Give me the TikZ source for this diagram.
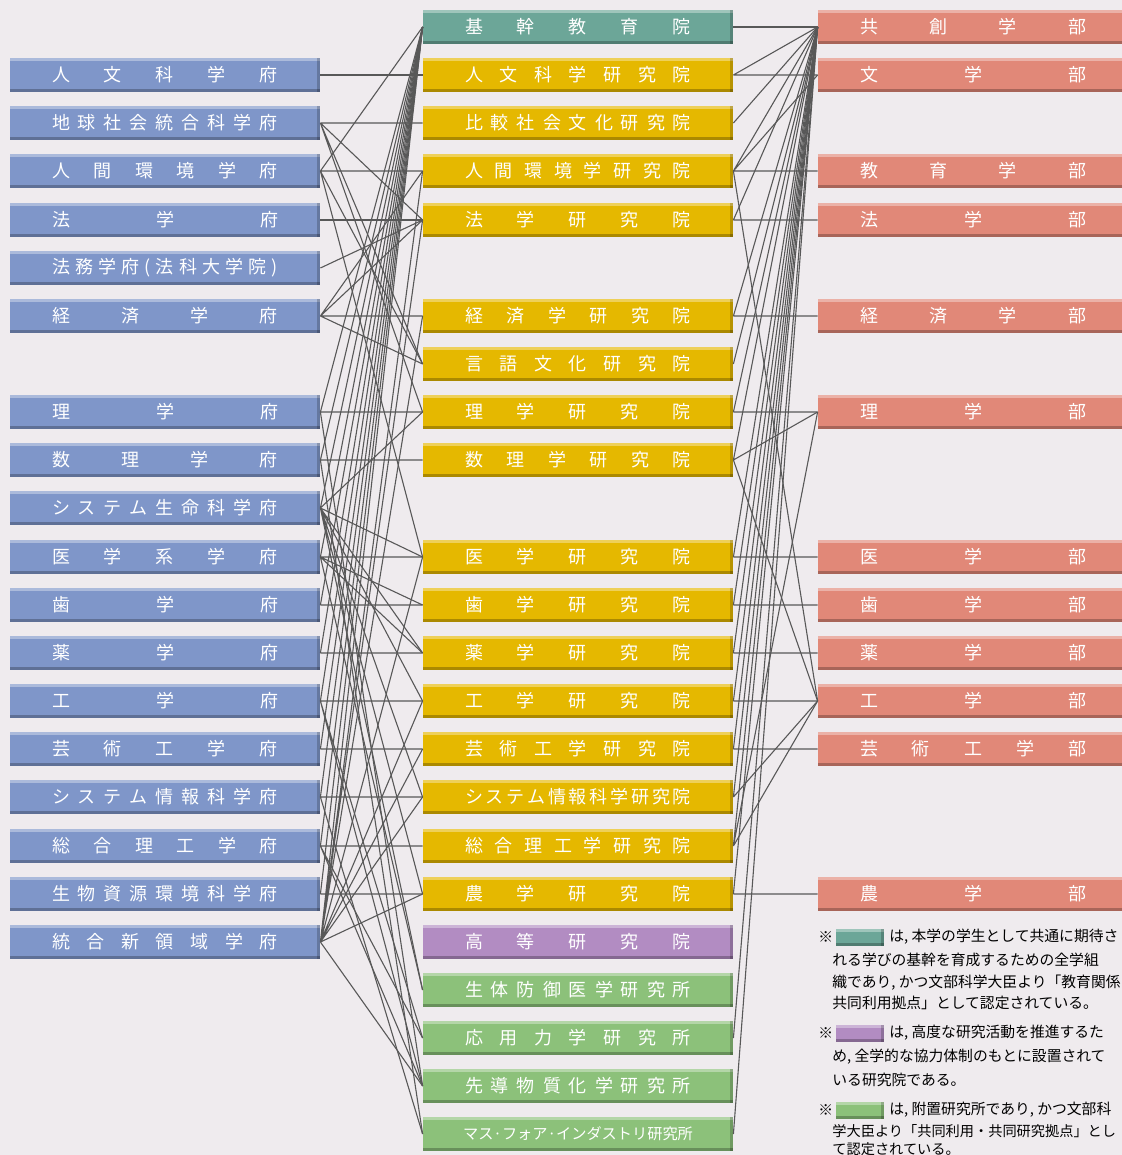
\documentclass[tikz,border=0pt]{standalone}
\usepackage{fontspec}
\setmainfont{Noto Sans CJK JP}
\usepackage{tikz}

\definecolor{paper}{RGB}{239,235,238}
\definecolor{fublue}{RGB}{127,150,201}
\definecolor{ingold}{RGB}{229,184,0}
\definecolor{busalmon}{RGB}{225,136,120}
\definecolor{kikanteal}{RGB}{108,166,152}
\definecolor{kotopurple}{RGB}{178,140,194}
\definecolor{fuzokugreen}{RGB}{140,193,122}
\definecolor{linkgray}{RGB}{88,88,88}

% spread the letters of a unit name over the box
\newcommand{\spr}[1]{\makebox[113pt][s]{#1}}

\tikzset{
  bevel/.style={path picture={
      \fill[white,opacity=0.35] (path picture bounding box.north west) rectangle ([yshift=-1.5pt]path picture bounding box.north east);
      \fill[black,opacity=0.25] (path picture bounding box.south west) rectangle ([yshift=1.5pt]path picture bounding box.south east);
      \fill[black,opacity=0.2] ([xshift=-1.6pt]path picture bounding box.south east) rectangle (path picture bounding box.north east);
    }},
  unit/.style={rectangle, fill=#1, bevel, minimum width=155pt, minimum height=17pt,
    inner sep=0pt, text=white, font=\fontsize{9}{9}\selectfont},
  swatch/.style={rectangle, fill=#1, bevel, minimum width=24pt, minimum height=8.5pt, inner sep=0pt},
  link/.style={draw=linkgray, line width=0.55pt},
  note/.style={anchor=west, inner sep=0pt, font=\fontsize{7.4}{11}\selectfont}
}

\begin{document}
\begin{tikzpicture}[x=0.5pt,y=-0.5pt]
  \fill[paper] (0,0) rectangle (1122,1155);
  \useasboundingbox (0,0) rectangle (1122,1155);

  % gakufu (left)
  \node[unit=fublue] (fJinbun) at (165,75) {\spr{人 文 科 学 府}};
  \node[unit=fublue] (fChikyu) at (165,123) {\spr{地 球 社 会 統 合 科 学 府}};
  \node[unit=fublue] (fNingen) at (165,171) {\spr{人 間 環 境 学 府}};
  \node[unit=fublue] (fHo) at (165,220) {\spr{法 学 府}};
  \node[unit=fublue] (fHomu) at (165,268) {\spr{法 務 学 府 ( 法 科 大 学 院 )}};
  \node[unit=fublue] (fKeizai) at (165,316) {\spr{経 済 学 府}};
  \node[unit=fublue] (fRi) at (165,412) {\spr{理 学 府}};
  \node[unit=fublue] (fSuri) at (165,460) {\spr{数 理 学 府}};
  \node[unit=fublue] (fSysSei) at (165,508) {\spr{シ ス テ ム 生 命 科 学 府}};
  \node[unit=fublue] (fIgaku) at (165,557) {\spr{医 学 系 学 府}};
  \node[unit=fublue] (fShi) at (165,605) {\spr{歯 学 府}};
  \node[unit=fublue] (fYaku) at (165,653) {\spr{薬 学 府}};
  \node[unit=fublue] (fKo) at (165,701) {\spr{工 学 府}};
  \node[unit=fublue] (fGeiko) at (165,749) {\spr{芸 術 工 学 府}};
  \node[unit=fublue] (fSysJo) at (165,797) {\spr{シ ス テ ム 情 報 科 学 府}};
  \node[unit=fublue] (fSogo) at (165,846) {\spr{総 合 理 工 学 府}};
  \node[unit=fublue] (fSeibutsu) at (165,894) {\spr{生 物 資 源 環 境 科 学 府}};
  \node[unit=fublue] (fTogo) at (165,942) {\spr{統 合 新 領 域 学 府}};

  % kenkyuin (middle)
  \node[unit=kikanteal] (iKikan) at (578,27) {\spr{基 幹 教 育 院}};
  \node[unit=ingold] (iJinbun) at (578,75) {\spr{人 文 科 学 研 究 院}};
  \node[unit=ingold] (iHikaku) at (578,123) {\spr{比 較 社 会 文 化 研 究 院}};
  \node[unit=ingold] (iNingen) at (578,171) {\spr{人 間 環 境 学 研 究 院}};
  \node[unit=ingold] (iHo) at (578,220) {\spr{法 学 研 究 院}};
  \node[unit=ingold] (iKeizai) at (578,316) {\spr{経 済 学 研 究 院}};
  \node[unit=ingold] (iGengo) at (578,364) {\spr{言 語 文 化 研 究 院}};
  \node[unit=ingold] (iRi) at (578,412) {\spr{理 学 研 究 院}};
  \node[unit=ingold] (iSuri) at (578,460) {\spr{数 理 学 研 究 院}};
  \node[unit=ingold] (iIgaku) at (578,557) {\spr{医 学 研 究 院}};
  \node[unit=ingold] (iShi) at (578,605) {\spr{歯 学 研 究 院}};
  \node[unit=ingold] (iYaku) at (578,653) {\spr{薬 学 研 究 院}};
  \node[unit=ingold] (iKo) at (578,701) {\spr{工 学 研 究 院}};
  \node[unit=ingold] (iGeiko) at (578,749) {\spr{芸 術 工 学 研 究 院}};
  \node[unit=ingold] (iSysJo) at (578,797) {\spr{シ ス テ ム 情 報 科 学 研 究 院}};
  \node[unit=ingold] (iSogo) at (578,846) {\spr{総 合 理 工 学 研 究 院}};
  \node[unit=ingold] (iNo) at (578,894) {\spr{農 学 研 究 院}};
  \node[unit=kotopurple] (iKoto) at (578,942) {\spr{高 等 研 究 院}};
  \node[unit=fuzokugreen] (iSeitai) at (578,990) {\spr{生 体 防 御 医 学 研 究 所}};
  \node[unit=fuzokugreen] (iOyo) at (578,1038) {\spr{応 用 力 学 研 究 所}};
  \node[unit=fuzokugreen] (iSendo) at (578,1086) {\spr{先 導 物 質 化 学 研 究 所}};
  \node[unit=fuzokugreen, font=\fontsize{7.6}{7.6}\selectfont] (iMasu) at (578,1134) {マス·フォア·インダストリ研究所};

  % gakubu (right)
  \node[unit=busalmon] (bKyoso) at (973,27) {\spr{共 創 学 部}};
  \node[unit=busalmon] (bBun) at (973,75) {\spr{文 学 部}};
  \node[unit=busalmon] (bKyoiku) at (973,171) {\spr{教 育 学 部}};
  \node[unit=busalmon] (bHo) at (973,220) {\spr{法 学 部}};
  \node[unit=busalmon] (bKeizai) at (973,316) {\spr{経 済 学 部}};
  \node[unit=busalmon] (bRi) at (973,412) {\spr{理 学 部}};
  \node[unit=busalmon] (bI) at (973,557) {\spr{医 学 部}};
  \node[unit=busalmon] (bShi) at (973,605) {\spr{歯 学 部}};
  \node[unit=busalmon] (bYaku) at (973,653) {\spr{薬 学 部}};
  \node[unit=busalmon] (bKo) at (973,701) {\spr{工 学 部}};
  \node[unit=busalmon] (bGeiko) at (973,749) {\spr{芸 術 工 学 部}};
  \node[unit=busalmon] (bNo) at (973,894) {\spr{農 学 部}};

  % gakufu -- kenkyuin
  \draw[link] (fJinbun.east) -- (iJinbun.west);
  \draw[link] (fChikyu.east) -- (iHikaku.west) (fChikyu.east) -- (iHo.west) (fChikyu.east) -- (iGengo.west) (fChikyu.east) -- (iRi.west);
  \draw[link] (fNingen.east) -- (iNingen.west) (fNingen.east) -- (iKikan.west) (fNingen.east) -- (iGengo.west) (fNingen.east) -- (iIgaku.west);
  \draw[link] (fHo.east) -- (iHo.west);
  \draw[link] (fHomu.east) -- (iHo.west);
  \draw[link] (fKeizai.east) -- (iKeizai.west) (fKeizai.east) -- (iNingen.west) (fKeizai.east) -- (iHo.west) (fKeizai.east) -- (iGengo.west);
  \draw[link] (fRi.east) -- (iRi.west) (fRi.east) -- (iKikan.west) (fRi.east) -- (iSendo.west);
  \draw[link] (fSuri.east) -- (iSuri.west) (fSuri.east) -- (iMasu.west) (fSuri.east) -- (iKikan.west);
  \draw[link] (fSysSei.east) -- (iKikan.west) (fSysSei.east) -- (iRi.west) (fSysSei.east) -- (iIgaku.west) (fSysSei.east) -- (iYaku.west) (fSysSei.east) -- (iKo.west) (fSysSei.east) -- (iNo.west) (fSysSei.east) -- (iSysJo.west) (fSysSei.east) -- (iSeitai.west);
  \draw[link] (fIgaku.east) -- (iIgaku.west) (fIgaku.east) -- (iSeitai.west) (fIgaku.east) -- (iKikan.west) (fIgaku.east) -- (iYaku.west) (fIgaku.east) -- (iShi.west);
  \draw[link] (fShi.east) -- (iShi.west) (fShi.east) -- (iKikan.west);
  \draw[link] (fYaku.east) -- (iYaku.west) (fYaku.east) -- (iKikan.west);
  \draw[link] (fKo.east) -- (iKo.west) (fKo.east) -- (iSendo.west) (fKo.east) -- (iKikan.west) (fKo.east) -- (iOyo.west);
  \draw[link] (fGeiko.east) -- (iGeiko.west) (fGeiko.east) -- (iKikan.west);
  \draw[link] (fSysJo.east) -- (iSysJo.west) (fSysJo.east) -- (iKikan.west) (fSysJo.east) -- (iMasu.west);
  \draw[link] (fSogo.east) -- (iSogo.west) (fSogo.east) -- (iOyo.west) (fSogo.east) -- (iSendo.west) (fSogo.east) -- (iKikan.west);
  \draw[link] (fSeibutsu.east) -- (iNo.west) (fSeibutsu.east) -- (iKikan.west);
  \draw[link] (fTogo.east) -- (iNingen.west) (fTogo.east) -- (iGeiko.west) (fTogo.east) -- (iIgaku.west) (fTogo.east) -- (iKo.west) (fTogo.east) -- (iNo.west) (fTogo.east) -- (iSysJo.west) (fTogo.east) -- (iKeizai.west) (fTogo.east) -- (iHo.west) (fTogo.east) -- (iSendo.west) (fTogo.east) -- (iKikan.west);

  % kenkyuin -- gakubu
  \draw[link] (iKikan.east) -- (bKyoso.west);
  \draw[link] (iJinbun.east) -- (bBun.west) (iJinbun.east) -- (bKyoso.west);
  \draw[link] (iHikaku.east) -- (bKyoso.west);
  \draw[link] (iNingen.east) -- (bKyoiku.west) (iNingen.east) -- (bKyoso.west) (iNingen.east) -- (bBun.west) (iNingen.east) -- (bKo.west);
  \draw[link] (iHo.east) -- (bHo.west) (iHo.east) -- (bKyoso.west);
  \draw[link] (iKeizai.east) -- (bKeizai.west) (iKeizai.east) -- (bKyoso.west);
  \draw[link] (iGengo.east) -- (bKyoso.west);
  \draw[link] (iRi.east) -- (bRi.west) (iRi.east) -- (bKyoso.west);
  \draw[link] (iSuri.east) -- (bRi.west) (iSuri.east) -- (bKo.west) (iSuri.east) -- (bKyoso.west);
  \draw[link] (iIgaku.east) -- (bI.west) (iIgaku.east) -- (bKyoso.west);
  \draw[link] (iShi.east) -- (bShi.west) (iShi.east) -- (bKyoso.west);
  \draw[link] (iYaku.east) -- (bYaku.west) (iYaku.east) -- (bKyoso.west);
  \draw[link] (iKo.east) -- (bKo.west) (iKo.east) -- (bKyoso.west);
  \draw[link] (iGeiko.east) -- (bGeiko.west) (iGeiko.east) -- (bKyoso.west);
  \draw[link] (iSysJo.east) -- (bKo.west) (iSysJo.east) -- (bKyoso.west);
  \draw[link] (iSogo.east) -- (bKo.west) (iSogo.east) -- (bRi.west) (iSogo.east) -- (bKyoso.west);
  \draw[link] (iNo.east) -- (bNo.west) (iNo.east) -- (bKyoso.west);
  \draw[link] (iOyo.east) -- (bKyoso.west);
  \draw[link] (iMasu.east) -- (bKyoso.west);

  % notes
  \node[note] (mk1) at (818,937) {※};
  \node[swatch=kikanteal] (sw1) at (860,937) {};
  \node[note] (n1a) at (889,937) {は, 本学の学生として共通に期待さ};
  \node[note] (n1b) at (832,960) {れる学びの基幹を育成するための全学組};
  \node[note] (n1c) at (832,983) {織であり, かつ文部科学大臣より「教育関係};
  \node[note] (n1d) at (832,1003) {共同利用拠点」として認定されている。};
  \node[note] (mk2) at (818,1033) {※};
  \node[swatch=kotopurple] (sw2) at (860,1033) {};
  \node[note] (n2a) at (889,1033) {は, 高度な研究活動を推進するた};
  \node[note] (n2b) at (832,1057) {め, 全学的な協力体制のもとに設置されて};
  \node[note] (n2c) at (832,1080) {いる研究院である。};
  \node[note] (mk3) at (818,1110) {※};
  \node[swatch=fuzokugreen] (sw3) at (860,1110) {};
  \node[note] (n3a) at (889,1110) {は, 附置研究所であり, かつ文部科};
  \node[note, font=\fontsize{7.1}{11}\selectfont] (n3b) at (832,1131) {学大臣より「共同利用・共同研究拠点」とし};
  \node[note, font=\fontsize{7.1}{11}\selectfont] (n3c) at (832,1149) {て認定されている。};
\end{tikzpicture}
\end{document}
